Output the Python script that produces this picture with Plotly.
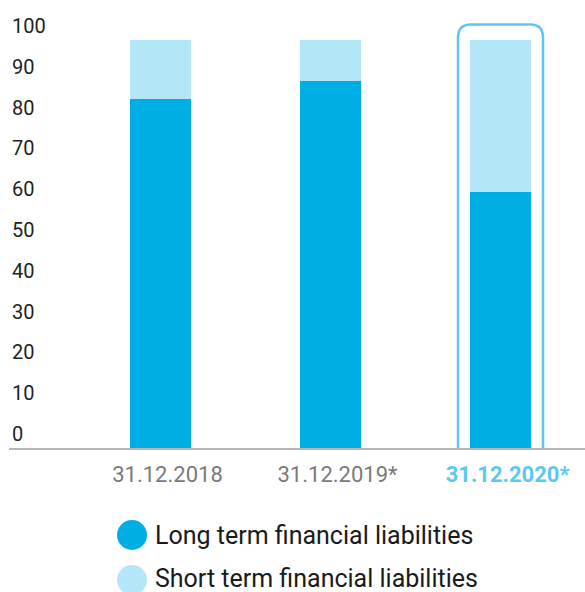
import plotly.graph_objects as go

categories = ["31.12.2018", "31.12.2019*", "31.12.2020*"]
long_term = [85.5, 90.0, 62.7]
short_term = [14.5, 10.0, 37.3]
series_names = ["Long term financial liabilities", "Short term financial liabilities"]
y_ticks = [0, 10, 20, 30, 40, 50, 60, 70, 80, 90, 100]

DARK = "#00AEE6"
LIGHT = "#B3E6F6"
OUTLINE = "#5CC8F2"
FONT = "Roboto"

x_idx = list(range(len(categories)))

fig = go.Figure()
fig.add_trace(go.Bar(x=x_idx, y=long_term, name=series_names[0], marker=dict(color=DARK, line=dict(width=0)),
                     width=0.36, showlegend=False))
fig.add_trace(go.Bar(x=x_idx, y=short_term, name=series_names[1], marker=dict(color=LIGHT, line=dict(width=0)),
                     width=0.36, showlegend=False))

ticktext = []
for i, c in enumerate(categories):
    if i == len(categories) - 1:
        ticktext.append(f"<b><span style='color:{OUTLINE}'>{c}</span></b>")
    else:
        ticktext.append(c)

# highlight rounded rectangle around last category
hx = x_idx[-1]
x0, x1 = hx - 0.25, hx + 0.25
ytop = 103.8
rx, ry = 0.076, 3.2
path = (f"M {x0},0 L {x0},{ytop-ry} Q {x0},{ytop} {x0+rx},{ytop} "
        f"L {x1-rx},{ytop} Q {x1},{ytop} {x1},{ytop-ry} L {x1},0")
fig.add_shape(type="path", path=path, xref="x", yref="y", line=dict(color=OUTLINE, width=2.5),
              layer="above")

# manual legend
L, T, B, W, H = 9, 0, 144, 585, 592
plot_w = W - L
plot_h = H - T - B
def px_to_paper(px, py):
    return (px - L) / plot_w, (H - B - py) / plot_h

colors = [DARK, LIGHT]
rows_y = [535, 580]
text_y = [535, 578]
for name, col, cy, ty in zip(series_names, colors, rows_y, text_y):
    xp, yp = px_to_paper(132, cy)
    fig.add_shape(type="circle", xref="paper", yref="paper", xsizemode="pixel", ysizemode="pixel",
                  xanchor=xp, yanchor=yp, x0=-15, x1=15, y0=-15, y1=15,
                  fillcolor=col, line=dict(width=0))
    xt, yt = px_to_paper(153, ty)
    fig.add_annotation(x=xt, y=yt, xref="paper", yref="paper", text=name, showarrow=False,
                       xanchor="left", yanchor="middle", font=dict(family=FONT, size=25, color="#1a1a1a"))

fig.update_layout(
    width=W, height=H,
    margin=dict(l=L, r=0, t=T, b=B),
    barmode="stack",
    plot_bgcolor="white", paper_bgcolor="white",
    showlegend=False,
    font=dict(family=FONT),
)
fig.update_xaxes(range=[-0.891, 2.497], tickvals=x_idx, ticktext=ticktext,
                 showgrid=False, zeroline=False, showline=True, linecolor="#b5b5b5", linewidth=1.5,
                 ticks="", tickfont=dict(family=FONT, size=22, color="#7a7a7a"),
                 ticklabelshift=7, ticklabelstandoff=6)
fig.update_yaxes(range=[0, 109.8], tickvals=y_ticks, ticktext=[str(v) for v in y_ticks],
                 showgrid=False, zeroline=False, showline=False, ticks="",
                 ticklabelposition="inside top", tickfont=dict(family=FONT, size=20, color="#222222"))

fig.write_html("out.html")
